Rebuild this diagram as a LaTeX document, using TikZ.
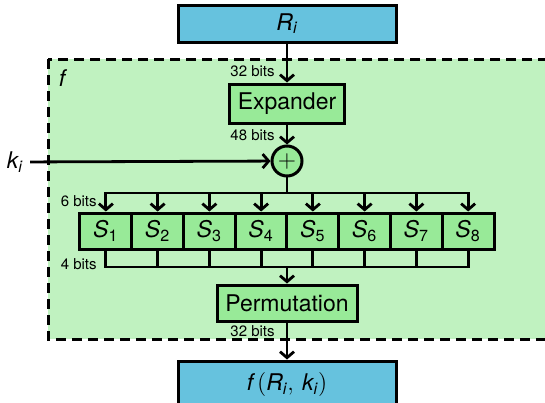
\documentclass[tikz,border=0pt]{standalone}
\usepackage{amsmath}
\usepackage{fontspec}
\setmainfont{TeX Gyre Heros}
\usetikzlibrary{arrows.meta}

\definecolor{boxblue}{RGB}{102,194,222}
\definecolor{fbg}{RGB}{192,242,192}
\definecolor{boxgreen}{RGB}{152,234,152}

\tikzset{
  blk/.style={draw,line width=1.5pt,inner sep=0pt,font=\fontsize{11.5}{13}\selectfont},
  bluebox/.style={blk,fill=boxblue,minimum width=109pt},
  greenbox/.style={blk,fill=boxgreen,minimum height=18pt},
  wire/.style={line width=1.4pt,line cap=rect},
  arr/.style={line width=1.4pt,-{Straight Barb[length=3pt,width=7pt]}},
  bits/.style={anchor=east,font=\fontsize{7.5}{8}\selectfont,inner sep=0pt},
}

\begin{document}
\begin{tikzpicture}[x=0.5pt,y=-0.5pt]
  \useasboundingbox (0,0) rectangle (545,402);
  \clip (0,0) rectangle (545,402);
  % the f block
  \fill[fbg] (48,59) rectangle (570,339);
  \draw[line width=1.5pt,dash pattern=on 5pt off 3pt] (48,59) rectangle (570,339);
  \node[font=\fontsize{11.5}{13}\selectfont] (flabel) at (63,78) {\textit{f}};
  % in and out
  \node[bluebox,minimum height=18.5pt] (ri) at (287,23.5) {$\textit{R}_{\textit{i}}$};
  \node[bluebox,minimum height=23.5pt] (out) at (287,384.5) {$\textit{f}\,(\textit{R}_{\textit{i}},\,\textit{k}_{\textit{i}})$};
  % expander and key
  \node[greenbox,minimum width=57.5pt,minimum height=19.5pt] (exp) at (287,103.5) {Expander};
  \draw[arr] (ri) -- (exp);
  \node[bits] (l32a) at (275,71) {32 bits};
  \node[circle,blk,fill=boxgreen,minimum size=15pt] (xor) at (287,161) {$+$};
  \draw[arr] (exp) -- (xor);
  \node[bits] (l48) at (275,135) {48 bits};
  \node[font=\fontsize{11.5}{13}\selectfont] (ki) at (15,162) {$\textit{k}_{\textit{i}}$};
  \draw[arr] (ki) -- (xor);
  % S-boxes
  \coordinate (bustop) at (287,193);
  \coordinate (busbot) at (287,267);
  \foreach \i in {1,...,8}{
    \node[greenbox,minimum width=25.9pt] (s\i) at ({80+51.75*(\i-0.5)},231) {$\textit{S}_{\text{\i}}$};
    \draw[arr] (s\i |- bustop) -- (s\i);
    \draw[wire] (s\i) -- (s\i |- busbot);
  }
  \draw[wire] (xor) -- (bustop);
  \draw[wire] (s1 |- bustop) -- (s8 |- bustop);
  \draw[wire] (s1 |- busbot) -- (s8 |- busbot);
  \node[bits] (l6) at (97,201) {6 bits};
  \node[bits] (l4) at (97,264) {4 bits};
  % permutation
  \node[greenbox,minimum width=70pt] (perm) at (287,303) {Permutation};
  \draw[arr] (busbot) -- (perm);
  \draw[arr] (perm) -- (out);
  \node[bits] (l32b) at (275,331) {32 bits};
\end{tikzpicture}
\end{document}
